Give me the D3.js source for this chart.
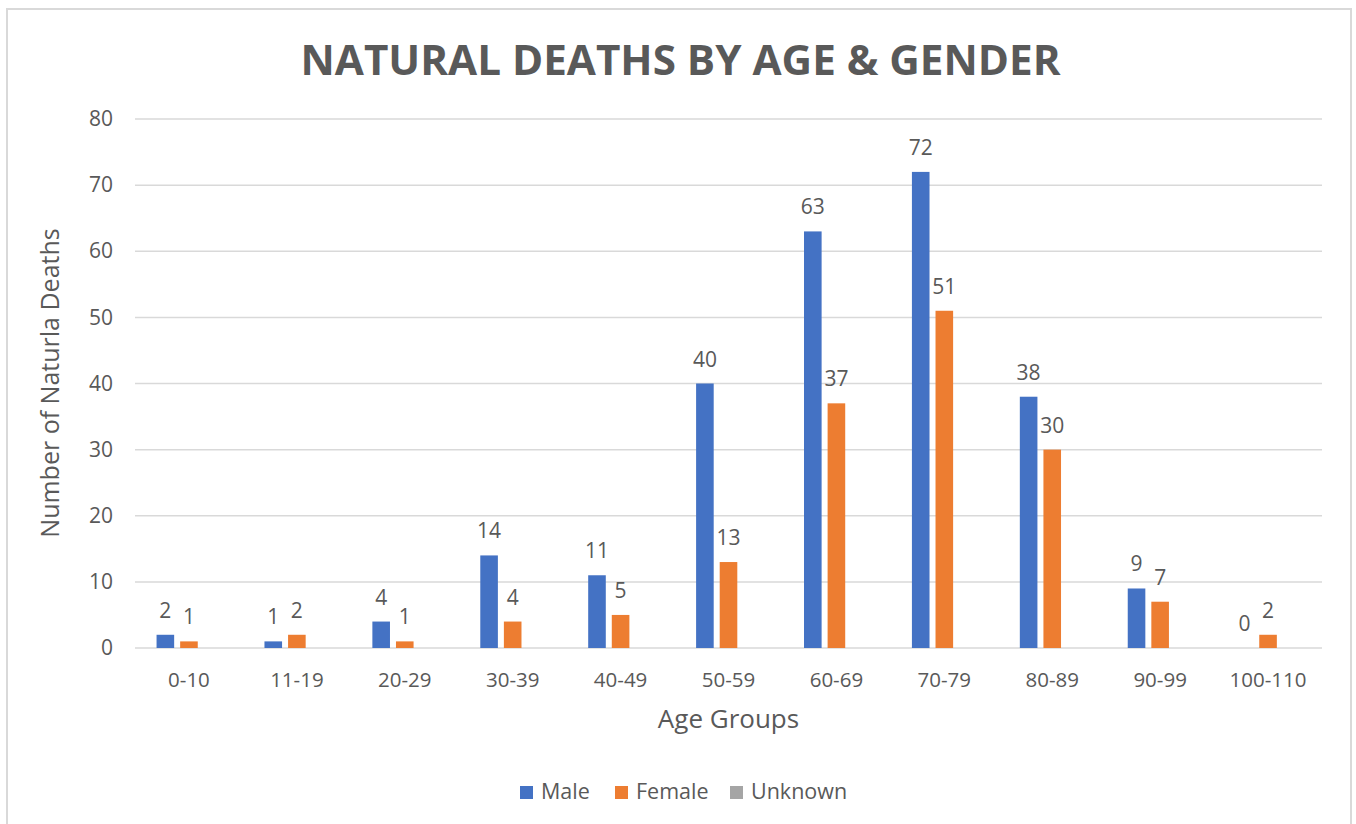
<!DOCTYPE html>
<html>
<head>
<meta charset="utf-8">
<script src="https://cdn.jsdelivr.net/npm/d3@7"></script>
<style>
  html, body { margin: 0; padding: 0; background: #fff; }
  svg { display: block; }
</style>
</head>
<body>
<div id="chart"></div>
<script>
const categories = ["0-10", "11-19", "20-29", "30-39", "40-49", "50-59", "60-69", "70-79", "80-89", "90-99", "100-110"]
const seriesNames = ["Male", "Female", "Unknown"]
const male = [2, 1, 4, 14, 11, 40, 63, 72, 38, 9, 0]
const female = [1, 2, 1, 4, 5, 13, 37, 51, 30, 7, 2]
const unknown = [null, null, null, null, null, null, null, null, null, null, null]
const yTicks = [0, 10, 20, 30, 40, 50, 60, 70, 80]
const colors = ["#4472C4", "#ED7D31", "#A5A5A5"]

const width = 1356
const height = 824
const margin = { top: 119, right: 34, bottom: 176, left: 135 }
const font = "'Open Sans', 'Noto Sans', sans-serif"
const textColor = "#595959"

const svg = d3.select("#chart")
  .append("svg")
  .attr("width", width)
  .attr("height", height)

// chart frame
svg.append("path")
  .attr("d", `M7,${height} V9 H1351 V${height}`)
  .attr("fill", "none")
  .attr("stroke", "#d9d9d9")
  .attr("stroke-width", 2)

const x = d3.scaleBand()
  .domain(categories)
  .range([margin.left, width - margin.right])

const y = d3.scaleLinear()
  .domain([0, 80])
  .range([height - margin.bottom, margin.top])

// inner band for the 3 series
const barW = 17.6
const step = barW + 6
const xs = d3.scaleBand()
  .domain(seriesNames)
  .range([0, step * 3])

// gridlines
svg.append("g")
  .selectAll("line")
  .data(yTicks)
  .join("line")
  .attr("x1", margin.left)
  .attr("x2", width - margin.right)
  .attr("y1", d => y(d))
  .attr("y2", d => y(d))
  .attr("stroke", "#d9d9d9")
  .attr("stroke-width", 1.5)

// y axis labels
svg.append("g")
  .attr("transform", `translate(${margin.left},0)`)
  .call(d3.axisLeft(y).tickValues(yTicks).tickSize(0).tickPadding(22))
  .call(g => g.select(".domain").remove())
  .call(g => g.selectAll("text")
    .attr("fill", textColor)
    .style("font-family", font)
    .style("font-size", "21px"))

// x axis labels
svg.append("g")
  .attr("transform", `translate(0,${height - margin.bottom})`)
  .call(d3.axisBottom(x).tickSize(0).tickPadding(24))
  .call(g => g.select(".domain").remove())
  .call(g => g.selectAll("text")
    .attr("fill", textColor)
    .style("font-family", font)
    .style("font-size", "20.5px"))

const series = [male, female, unknown]

series.forEach((vals, si) => {
  const name = seriesNames[si]
  const pts = categories.map((c, i) => ({ c, v: vals[i] })).filter(d => d.v != null)
  const groupOffset = (x.bandwidth() - step * 3 + 6) / 2

  svg.append("g")
    .selectAll("rect")
    .data(pts)
    .join("rect")
    .attr("x", d => x(d.c) + groupOffset + xs(name))
    .attr("y", d => y(d.v))
    .attr("width", barW)
    .attr("height", d => y(0) - y(d.v))
    .attr("fill", colors[si])

  svg.append("g")
    .selectAll("text")
    .data(pts)
    .join("text")
    .attr("x", d => x(d.c) + groupOffset + xs(name) + barW / 2)
    .attr("y", d => y(d.v) - 17)
    .attr("text-anchor", "middle")
    .attr("fill", textColor)
    .style("font-family", font)
    .style("font-size", "21px")
    .text(d => d.v)
})

// title
svg.append("text")
  .attr("x", (margin.left + width - margin.right) / 2 - 48)
  .attr("y", 75)
  .attr("text-anchor", "middle")
  .attr("fill", textColor)
  .attr("textLength", 760)
  .attr("lengthAdjust", "spacingAndGlyphs")
  .style("font-family", font)
  .style("font-weight", "bold")
  .style("font-size", "41px")
  .text("NATURAL DEATHS BY AGE & GENDER")

// axis titles
svg.append("text")
  .attr("transform", `translate(59,${383}) rotate(-90)`)
  .attr("text-anchor", "middle")
  .attr("fill", textColor)
  .style("font-family", font)
  .style("font-size", "25px")
  .text("Number of Naturla Deaths")

svg.append("text")
  .attr("x", (margin.left + width - margin.right) / 2)
  .attr("y", 728)
  .attr("text-anchor", "middle")
  .attr("fill", textColor)
  .style("font-family", font)
  .style("font-size", "26px")
  .text("Age Groups")

// legend
const legendX = [520, 615, 730]
const legend = svg.append("g")
  .selectAll("g")
  .data(seriesNames)
  .join("g")
  .attr("transform", (d, i) => `translate(${legendX[i]},786)`)

legend.append("rect")
  .attr("width", 13)
  .attr("height", 13)
  .attr("fill", (d, i) => colors[i])

legend.append("text")
  .attr("x", 21)
  .attr("y", 13)
  .attr("fill", textColor)
  .style("font-family", font)
  .style("font-size", "21.5px")
  .text(d => d)
</script>
</body>
</html>
